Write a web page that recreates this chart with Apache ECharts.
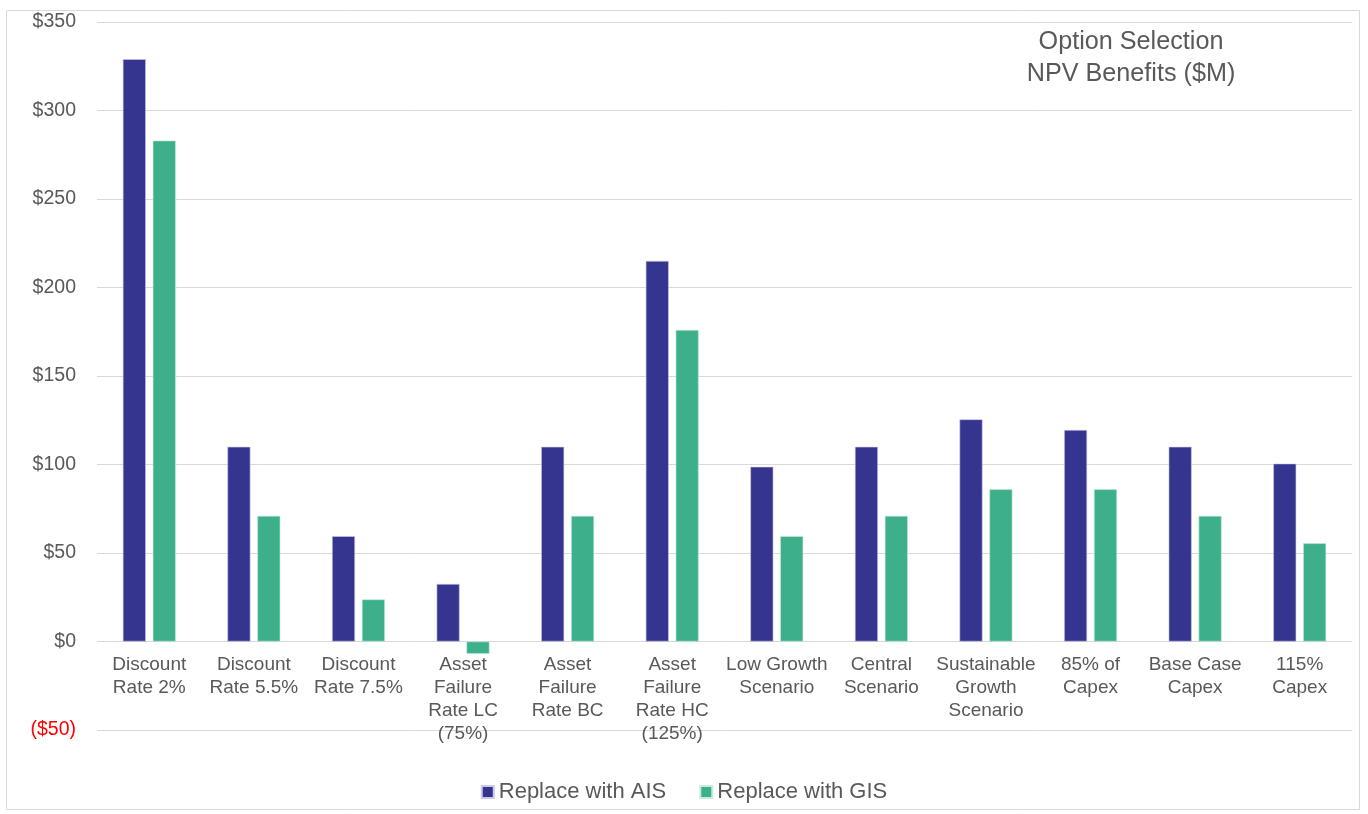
<!DOCTYPE html>
<html>
<head>
<meta charset="utf-8">
<script src="https://cdn.jsdelivr.net/npm/echarts@6/dist/echarts.min.js"></script>
<style>html,body{margin:0;padding:0;background:#fff}#c{width:1368px;height:814px}</style>
</head>
<body>
<div id="c"></div>
<script>
const categories = ["Discount\nRate 2%","Discount\nRate 5.5%","Discount\nRate 7.5%","Asset\nFailure\nRate LC\n(75%)","Asset\nFailure\nRate BC","Asset\nFailure\nRate HC\n(125%)","Low Growth\nScenario","Central\nScenario","Sustainable\nGrowth\nScenario","85% of\nCapex","Base Case\nCapex","115%\nCapex"];
const aisValues = [329, 110, 59.5, 32.5, 110, 215, 98.7, 110, 125.5, 119.5, 110, 100.5];
const gisValues = [283, 71, 23.8, -7, 71, 176, 59.5, 71, 86, 86, 71, 55.5];
const seriesNames = ["Replace with AIS", "Replace with GIS"];
const titleText = "Option Selection\nNPV Benefits ($M)";

const chart = echarts.init(document.getElementById('c'));
const fontFamily = "'Liberation Sans', Arial, sans-serif";
chart.setOption({
  backgroundColor: '#fff',
  animation: false,
  textStyle: { fontFamily },
  graphic: [{
    type: 'rect', shape: { x: 6.5, y: 10.5, width: 1353, height: 799 },
    style: { fill: 'none', stroke: '#d9d9d9', lineWidth: 1 }, silent: true, z: -1
  }],
  title: {
    text: titleText, left: 1126, top: 21, textAlign: 'center',
    textStyle: { fontFamily, fontSize: 25.2, fontWeight: 'normal', color: '#595959', lineHeight: 32 }
  },
  legend: {
    bottom: 6, left: 'center', itemWidth: 12, itemHeight: 12, itemGap: 33,
    icon: 'rect',
    textStyle: { fontFamily, fontSize: 22, color: '#595959' },
    data: seriesNames
  },
  grid: [
    { left: 97, right: 16, top: 22, bottom: 84, containLabel: false, outerBoundsMode: 'none' },
    { left: 97, right: 16, top: 22, bottom: 173, containLabel: false, outerBoundsMode: 'none' }
  ],
  xAxis: [
    {
      type: 'category', data: categories, gridIndex: 0,
      axisLine: { show: false }, axisTick: { show: false }, axisLabel: { show: false }
    },
    {
      type: 'category', data: categories, gridIndex: 1,
      axisLine: { show: false }, axisTick: { show: false },
      axisLabel: { interval: 0, fontSize: 19, color: '#595959', lineHeight: 23, margin: 12.5, fontFamily }
    }
  ],
  yAxis: [
    {
      type: 'value', min: -50, max: 350, interval: 50, gridIndex: 0,
      axisLine: { show: false }, axisTick: { show: false },
      splitLine: { lineStyle: { color: '#d9d9d9', width: 1 } },
      axisLabel: {
        fontSize: 19.5, margin: 21, fontFamily,
        formatter: v => v < 0 ? '($' + Math.abs(v) + ')' : '$' + v,
        color: v => (Number(v) < 0 ? '#ff0000' : '#595959')
      }
    },
    { type: 'value', gridIndex: 1, show: false, min: 0, max: 1 }
  ],
  series: [
    { name: seriesNames[0], type: 'bar', data: aisValues, barWidth: 23, barGap: '30%',
      itemStyle: { color: '#35348f', borderColor: '#c9c9e8', borderWidth: 0.6 } },
    { name: seriesNames[1], type: 'bar', data: gisValues, barWidth: 23,
      itemStyle: { color: '#3db08b', borderColor: '#c6eadc', borderWidth: 0.6 } }
  ]
});
</script>
</body>
</html>
